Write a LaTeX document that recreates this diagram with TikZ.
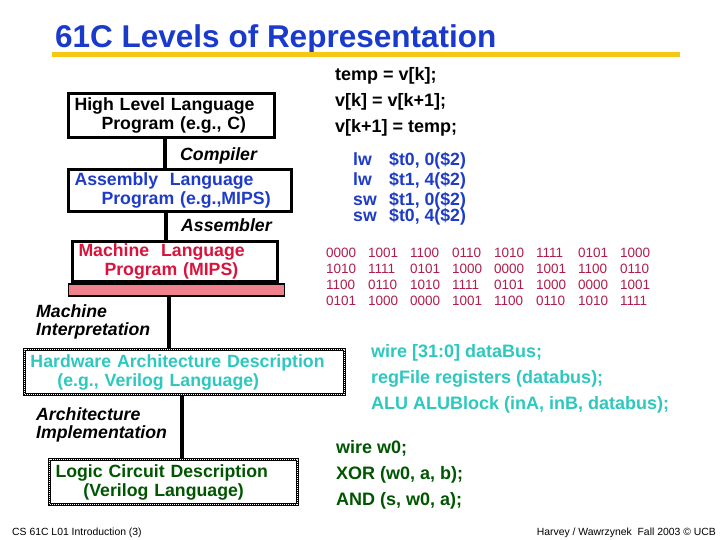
\documentclass[tikz,border=0pt]{standalone}
\usepackage{fontspec}
\setmainfont{Liberation Sans}
\usetikzlibrary{positioning}

\definecolor{titleblue}{RGB}{26,58,204}
\definecolor{asmblue}{RGB}{30,60,200}
\definecolor{machred}{RGB}{215,20,60}
\definecolor{binred}{RGB}{175,30,75}
\definecolor{barpink}{RGB}{240,128,140}
\definecolor{hwcyan}{RGB}{45,200,190}
\definecolor{logicgreen}{RGB}{0,85,0}
\definecolor{bargold}{RGB}{245,200,20}

\newcommand{\nib}[1]{\makebox[42pt][l]{#1}}
\newcommand{\op}[1]{\makebox[36pt][l]{#1}}

\begin{document}
\begin{tikzpicture}[x=1pt, y=-1pt,
    level/.style={draw, line width=3pt, anchor=north west, inner xsep=6pt, inner ysep=0pt, align=left, font=\bfseries\fontsize{17.7}{19}\selectfont},
    dotlevel/.style={level, postaction={draw=white, line width=1pt, dash pattern=on 1pt off 1pt}},
    tool/.style={anchor=base west, inner sep=0pt, align=left, font=\bfseries\itshape\fontsize{17.7}{18}\selectfont},
    code/.style={anchor=base west, inner sep=0pt, align=left, font=\bfseries\fontsize{18}{26}\selectfont},
    bits/.style={anchor=base west, inner sep=0pt, align=left, text=binred, font=\fontsize{13.5}{16}\selectfont},
    link/.style={line width=4pt},
    footer/.style={inner sep=0pt, font=\fontsize{10.4}{12}\selectfont}
]
\useasboundingbox (0,0) rectangle (720,540);
\fill[white] (0,0) rectangle (720,540);

% Title
\node[anchor=base west, inner sep=0pt, text=titleblue, font=\bfseries\fontsize{31.5}{36}\selectfont] (title) at (55,48) {61C Levels of Representation};
\fill[bargold] (52,52) rectangle (680,57);

% Levels
\node[level, minimum height=44pt, text width=194pt] (hll) at (67,92) {High Level Language\\\hspace*{27pt}Program (e.g., C)};
\node[level, minimum height=42pt, text width=211pt, text=asmblue] (asm) at (67,168) {Assembly\ \ Language\\\hspace*{27pt}Program (e.g.,MIPS)};
\node[level, minimum height=40pt, text width=193pt, text=machred] (mlang) at (71,240) {Machine\ \ Language\\\hspace*{26pt}Program (MIPS)};
\node[draw, line width=1.5pt, fill=barpink, minimum width=216pt, minimum height=12pt, inner sep=0pt, below=0pt of mlang, xshift=1.5pt] (mbar) {};
\node[dotlevel, minimum height=45pt, text width=308pt, text=hwcyan] (hwd) at (23,348) {Hardware Architecture Description\\\hspace*{27pt}(e.g., Verilog Language)};
\node[dotlevel, minimum height=45pt, text width=236pt, text=logicgreen] (lcd) at (48,458) {Logic Circuit Description\\\hspace*{28pt}(Verilog Language)};

% Connectors
\draw[link] ([xshift=-7pt]hll.south) -- ([xshift=-7pt]hll.south |- asm.north);
\draw[link] ([xshift=-14.5pt]asm.south) -- ([xshift=-14.5pt]asm.south |- mlang.north);
\draw[link] ([xshift=-8pt]mbar.south) -- ([xshift=-8pt]mbar.south |- hwd.north);
\draw[link] ([xshift=-3pt]hwd.south) -- ([xshift=-3pt]hwd.south |- lcd.north);

% Translation steps (base = last line)
\node[tool] (compiler) at (180,161) {Compiler};
\node[tool] (assembler) at (181,232) {Assembler};
\node[tool] (interp) at (36,335) {Machine\\Interpretation};
\node[tool] (impl) at (36,438) {Architecture\\Implementation};

% Examples
\node[code] (ccode) at (335,133) {temp = v[k];\\v[k] = v[k+1];\\v[k+1] = temp;};
\node[code, text=asmblue, font=\bfseries\fontsize{17.7}{19}\selectfont] (mips) at (353,222) {\op{lw}\$t0, 0(\$2)\\[1pt]\op{lw}\$t1, 4(\$2)\\[1pt]\op{sw}\$t1, 0(\$2)\\[-3pt]\op{sw}\$t0, 4(\$2)};
\node[bits] (mcode) at (326,305) {\nib{0000}\nib{1001}\nib{1100}\nib{0110}\nib{1010}\nib{1111}\nib{0101}\nib{1000}\\
\nib{1010}\nib{1111}\nib{0101}\nib{1000}\nib{0000}\nib{1001}\nib{1100}\nib{0110}\\
\nib{1100}\nib{0110}\nib{1010}\nib{1111}\nib{0101}\nib{1000}\nib{0000}\nib{1001}\\
\nib{0101}\nib{1000}\nib{0000}\nib{1001}\nib{1100}\nib{0110}\nib{1010}\nib{1111}};
\node[code, text=hwcyan] (hwcode) at (371,409) {wire [31:0] dataBus;\\regFile registers (databus);\\ALU ALUBlock (inA, inB, databus);};
\node[code, text=logicgreen] (gates) at (336,505) {wire w0;\\XOR (w0, a, b);\\AND (s, w0, a);};

% Footer
\node[footer, anchor=base west] (lect) at (12,535) {CS 61C L01 Introduction (3)};
\node[footer, anchor=base east] (credit) at (716,535) {Harvey / Wawrzynek\ \ Fall 2003 \textcopyright{} UCB};

\end{tikzpicture}
\end{document}
